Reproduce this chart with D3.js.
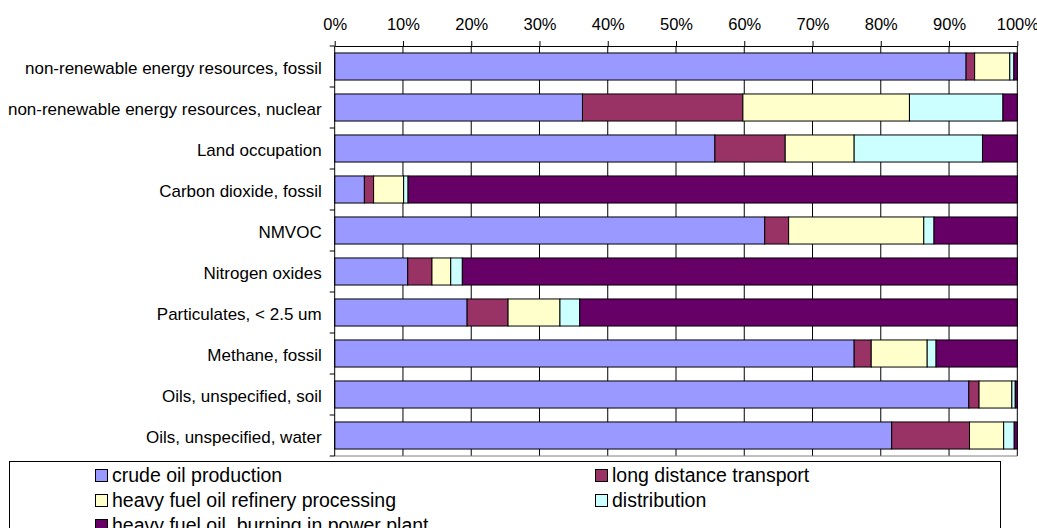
<!DOCTYPE html>
<html>
<head>
<meta charset="utf-8">
<script src="https://cdn.jsdelivr.net/npm/d3@7"></script>
<style>
  html, body { margin: 0; padding: 0; background: #fff; }
  svg { display: block; font-family: "Liberation Sans", Arial, sans-serif; }
</style>
</head>
<body>
<svg id="chart" width="1037" height="528"></svg>
<script>
// Impact categories, top to bottom
const categories = [
  "non-renewable energy resources, fossil",
  "non-renewable energy resources, nuclear",
  "Land occupation",
  "Carbon dioxide, fossil",
  "NMVOC",
  "Nitrogen oxides",
  "Particulates, < 2.5 um",
  "Methane, fossil",
  "Oils, unspecified, soil",
  "Oils, unspecified, water"
];

// Life-cycle stages (legend order)
const stages = [
  "crude oil production",
  "long distance transport",
  "heavy fuel oil refinery processing",
  "distribution",
  "heavy fuel oil, burning in power plant"
];

// Share of each stage per category, in percent
const crudeOilProduction    = [92.5, 36.3, 55.7,  4.35, 63.0, 10.7, 19.4, 76.1, 92.9, 81.6];
const longDistanceTransport = [1.25, 23.5, 10.3,  1.35,  3.5,  3.55,  6.0,  2.5,  1.5, 11.4];
const refineryProcessing    = [5.15, 24.4, 10.1,  4.4, 19.8,  2.75,  7.6,  8.2,  4.8,  5.0];
const distribution          = [0.6,  13.7, 18.8,  0.65,  1.5,  1.7,  2.9,  1.3,  0.5,  1.55];
const burningInPowerPlant   = [0.5,   2.1,  5.1, 89.25, 12.2, 81.3, 64.1, 11.9,  0.3,  0.45];

const tickLabels = ["0%", "10%", "20%", "30%", "40%", "50%", "60%", "70%", "80%", "90%", "100%"];

const colors = ["#9999FF", "#993366", "#FFFFCC", "#CCFFFF", "#660066"];

// Rows for the stack layout
const seriesValues = [crudeOilProduction, longDistanceTransport, refineryProcessing, distribution, burningInPowerPlant];
const rows = categories.map((c, i) => {
  const r = { category: c };
  stages.forEach((s, j) => { r[s] = seriesValues[j][i]; });
  return r;
});

// Normalise each row to 100 %
const stacked = d3.stack().keys(stages).offset(d3.stackOffsetExpand)(rows);

const svg = d3.select("#chart");
const plot = { left: 334.7, right: 1017.3, top: 46, bottom: 456 };

const x = d3.scaleLinear().domain([0, 1]).range([plot.left, plot.right]);
const y = d3.scaleBand().domain(categories).range([plot.top, plot.bottom]).paddingInner(0.34).paddingOuter(0.17);

// Vertical gridlines
svg.append("g")
  .selectAll("line")
  .data(d3.range(1, 11).map(d => d / 10))
  .join("line")
  .attr("x1", d => x(d)).attr("x2", d => x(d))
  .attr("y1", plot.top).attr("y2", plot.bottom)
  .attr("stroke", "#000").attr("stroke-width", 1);

// Plot bottom edge
svg.append("line")
  .attr("x1", plot.left).attr("x2", plot.right)
  .attr("y1", plot.bottom).attr("y2", plot.bottom)
  .attr("stroke", "#808080").attr("stroke-width", 1);

// Stacked bars
svg.append("g")
  .selectAll("g")
  .data(stacked)
  .join("g")
  .attr("fill", (d, i) => colors[i])
  .selectAll("rect")
  .data(d => d)
  .join("rect")
  .attr("x", d => x(d[0]))
  .attr("width", d => Math.max(0, x(d[1]) - x(d[0])))
  .attr("y", d => y(d.data.category))
  .attr("height", y.bandwidth())
  .attr("stroke", "#000")
  .attr("stroke-width", 1);

// Top percentage axis
const xAxis = d3.axisTop(x)
  .tickValues(d3.range(0, 11).map(d => d / 10))
  .tickFormat((d, i) => tickLabels[i])
  .tickSize(5)
  .tickPadding(11)
  .tickSizeOuter(0);

const gx = svg.append("g")
  .attr("transform", `translate(0,${plot.top})`)
  .call(xAxis);
gx.select(".domain").attr("stroke", "#000");
gx.selectAll(".tick line").attr("stroke", "#000");
gx.selectAll("text")
  .attr("font-size", "16.5px")
  .attr("font-family", "'Liberation Sans', Arial, sans-serif")
  .attr("fill", "#000");

// Left category axis: ticks on band boundaries
const boundaries = d3.range(0, categories.length + 1).map(i => plot.top + i * (plot.bottom - plot.top) / categories.length);
svg.append("line")
  .attr("x1", plot.left).attr("x2", plot.left)
  .attr("y1", plot.top).attr("y2", plot.bottom)
  .attr("stroke", "#000");
svg.append("g")
  .selectAll("line")
  .data(boundaries)
  .join("line")
  .attr("x1", plot.left - 5).attr("x2", plot.left)
  .attr("y1", d => d).attr("y2", d => d)
  .attr("stroke", "#000");

svg.append("g")
  .selectAll("text")
  .data(categories)
  .join("text")
  .attr("x", plot.left - 13)
  .attr("y", d => y(d) + y.bandwidth() / 2 + 7)
  .attr("text-anchor", "end")
  .attr("font-size", "17px")
  .attr("fill", "#000")
  .text(d => d);

// Legend
const legend = svg.append("g");
legend.append("rect")
  .attr("x", 9.5).attr("y", 461.5)
  .attr("width", 991).attr("height", 100)
  .attr("fill", "#fff").attr("stroke", "#000");

const legendPos = [
  { x: 95, row: 0 }, { x: 595, row: 0 },
  { x: 95, row: 1 }, { x: 595, row: 1 },
  { x: 95, row: 2 }
];
const items = legend.selectAll("g.item")
  .data(stages)
  .join("g")
  .attr("class", "item")
  .attr("transform", (d, i) => `translate(${legendPos[i].x},${469 + legendPos[i].row * 25})`);
items.append("rect")
  .attr("x", 0.5).attr("y", 0.5)
  .attr("width", 12).attr("height", 12)
  .attr("fill", (d, i) => colors[i])
  .attr("stroke", "#000");
items.append("text")
  .attr("x", 17).attr("y", 12.5)
  .attr("font-size", "19.5px")
  .attr("fill", "#000")
  .text(d => d);
</script>
</body>
</html>
